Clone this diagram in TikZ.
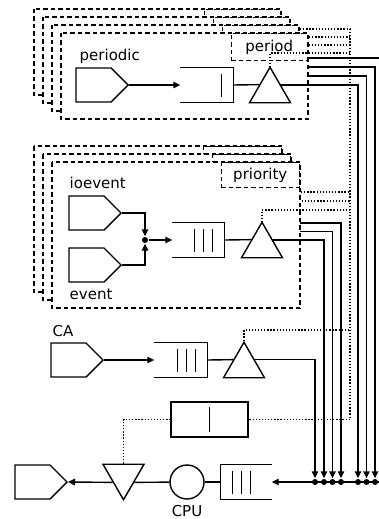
\documentclass[tikz,border=0pt]{standalone}
\usepackage{fontspec}
\setmainfont{DejaVu Sans}
\usetikzlibrary{arrows.meta, calc, shapes.geometric, shapes.symbols}

\begin{document}
\begin{tikzpicture}[x=1pt, y=-1pt, line width=1.4pt, >={Triangle[length=7pt, width=6.5pt]},
    font=\fontsize{15}{18}\selectfont,
    frame/.style={draw, fill=white, dash pattern=on 4.5pt off 3pt},
    tag/.style={frame, inner sep=0pt, anchor=north east},
    ctrl/.style={line width=1.3pt, dash pattern=on 1.3pt off 1.8pt},
    source/.style={draw, signal, signal to=east, signal pointer angle=90, inner sep=0pt,
        minimum width=52pt, minimum height=34pt, anchor=east},
    server/.style={draw, fill=white, regular polygon, regular polygon sides=3, inner sep=0pt,
        minimum size=47.3pt},
    queue/.style={inner sep=0pt, minimum height=34pt},
    junction/.style={circle, fill, inner sep=0pt, minimum size=6pt},
    lbl/.style={inner sep=0pt, anchor=base west}]

    \useasboundingbox (0,0) rectangle (378,519);

    % Merge points
    \foreach \n/\x in {CA/315, E2/324, E1/332.5, E0/341, P3/358, P2/366.5, P1/375, P0/383.5}
        \node[junction] (dot\n) at (\x,482) {};

    % Periodic tasks
    \foreach \k/\dx/\dy/\yo/\yb in {0/-27/-24/58/29, 1/-18/-16/67/37, 2/-9/-8/76/45, 3/0/0/85/53} {
        \begin{scope}[shift={(\dx,\dy)}]
            \draw[frame] (61,33) rectangle (308,119);
            \node[tag, minimum width=76pt, minimum height=27pt] (per\k) at (308,33) {\ifnum\k=3 period\fi};
            \coordinate (apP\k) at (270,67.3);
            \coordinate (outP\k) at (275,85);
        \end{scope}
        \coordinate (busP\k) at (350,\yb);
        \draw[->] (outP\k |- 0,\yo) -| (dotP\k);
        \draw[ctrl] (apP\k) |- (busP\k);
    }

    \node[lbl] (lblP) at (79,60.5) {periodic};
    \node[source] (srcP) at (129,85) {};
    \node[queue, minimum width=52pt] (qP) at (207,85) {};
    \node[server] (srvP) at (270,90.9) {};
    \draw[->] (srcP.east) -- (qP.west);
    \draw (qP.north west) -- (qP.north east) -- (qP.south east) -- (qP.south west);
    \draw ($(qP.east)+(-12,-11.5)$) -- ++(0,23);
    \draw (qP.east) -- (srvP.side 1);

    % Event tasks
    \foreach \k/\dx/\dy/\yo/\yb in {0/-18/-16/223/192, 1/-9/-8/231.5/201, 2/0/0/240/210} {
        \begin{scope}[shift={(\dx,\dy)}]
            \draw[frame] (52,162) rectangle (300,308);
            \node[tag, minimum width=78pt, minimum height=25pt] (pri\k) at (300,162) {\ifnum\k=2 priority\fi};
            \coordinate (apE\k) at (262,222.3);
            \coordinate (outE\k) at (267,240);
        \end{scope}
        \coordinate (busE\k) at (350,\yb);
        \draw[->] (outE\k |- 0,\yo) -| (dotE\k);
        \draw[ctrl] (apE\k) |- (busE\k);
    }

    \node[lbl] (lblIO) at (69,188) {ioevent};
    \node[lbl] (lblEv) at (69,299) {event};
    \node[source] (srcIO) at (122,213) {};
    \node[source] (srcEv) at (122,265) {};
    \node[junction] (jn) at (145,240) {};
    \node[queue, minimum width=51pt] (qE) at (198.5,240) {};
    \node[server] (srvE) at (262,245.9) {};
    \draw[->] (srcIO.east) -| (jn);
    \draw[->] (srcEv.east) -| (jn);
    \draw[->] (jn) -- (qE.west);
    \draw (qE.north west) -- (qE.north east) -- (qE.south east) -- (qE.south west);
    \foreach \b in {12,21,30}
        \draw ($(qE.east)+(-\b,-11.5)$) -- ++(0,23);
    \draw (qE.east) -- (srvE.side 1);

    % CA
    \node[lbl] (lblCA) at (52,336) {CA};
    \node[source] (srcCA) at (104,360) {};
    \node[queue, minimum width=52pt] (qCA) at (181,360) {};
    \node[server] (srvCA) at (244,365.9) {};
    \coordinate (busCA) at (350,330);
    \draw[->] (srcCA.east) -- (qCA.west);
    \draw (qCA.north west) -- (qCA.north east) -- (qCA.south east) -- (qCA.south west);
    \foreach \b in {12,21,30}
        \draw ($(qCA.east)+(-\b,-11.5)$) -- ++(0,23);
    \draw (qCA.east) -- (srvCA.side 1);
    \draw[->] (srvCA.side 3) -| (dotCA);
    \draw[ctrl] (srvCA.corner 1) |- (busCA);

    % CPU
    \node[draw, inner sep=0pt, minimum width=77pt, minimum height=35pt] (tmr) at (209.5,419.5) {};
    \draw (tmr.center) ++(0,-12.5) -- ++(0,25);
    \node[queue, minimum width=50pt] (qCPU) at (246,482) {};
    \node[circle, draw, inner sep=0pt, minimum size=34pt] (cpu) at (187,482) {};
    \node[anchor=base, inner sep=0pt] (lblCPU) at (187,516.5) {CPU};
    \node[server, shape border rotate=180] (disp) at (123.5,476.1) {};
    \node[source] (sink) at (68,482) {};
    \draw[->] (dotP0.center) -- (qCPU.east);
    \draw (qCPU.north east) -- (qCPU.north west) -- (qCPU.south west) -- (qCPU.south east);
    \foreach \b in {12,21,30}
        \draw ($(qCPU.west)+(\b,-11.5)$) -- ++(0,23);
    \draw (qCPU.west) -- (cpu);
    \draw (cpu) -- (disp.side 1);
    \draw[->] (disp.side 3) -- (sink.east);
    \draw[ctrl] (disp.side 2) |- (tmr.west);
    \draw[ctrl] (busP0) |- (tmr.east);
\end{tikzpicture}
\end{document}
